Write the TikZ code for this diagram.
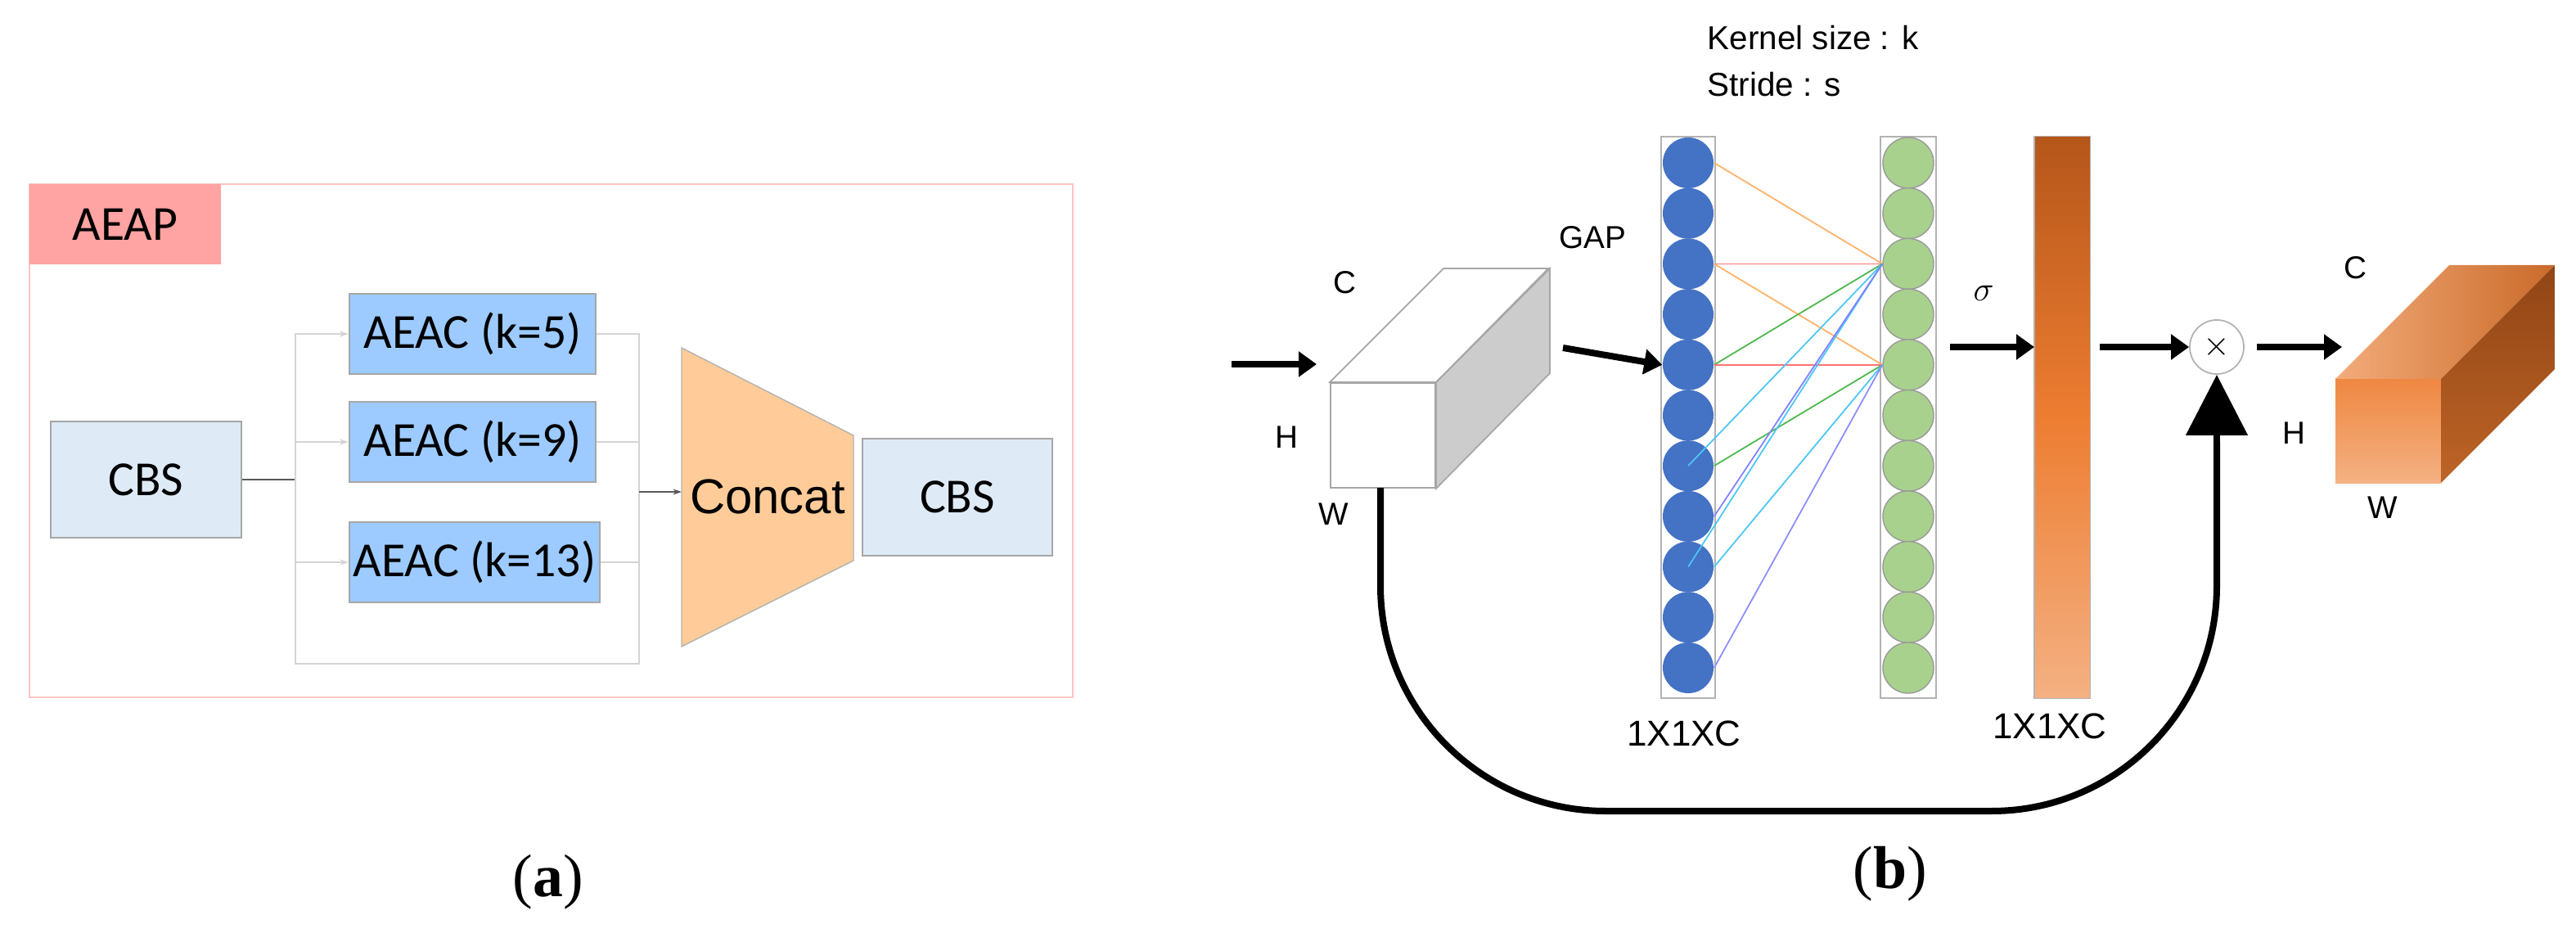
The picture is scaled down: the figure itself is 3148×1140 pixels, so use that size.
\documentclass[tikz,border=0pt]{standalone}
\usepackage{fontspec}
\setmainfont{Liberation Sans}
\newfontfamily\calib{Carlito}
\newfontfamily\serifb{Liberation Serif}
\usetikzlibrary{arrows.meta}
\definecolor{cbsfill}{HTML}{DEEBF7}
\definecolor{aeacfill}{HTML}{9DCBFF}
\definecolor{aeapfill}{HTML}{FFA3A3}
\definecolor{framec}{HTML}{FFC4C4}
\definecolor{concatfill}{HTML}{FFCC99}
\definecolor{conn}{HTML}{D4D4D4}
\definecolor{bluec}{HTML}{4472C4}
\definecolor{greenc}{HTML}{A9D18E}
\definecolor{oA}{HTML}{B5561A}
\definecolor{oB}{HTML}{ED7D31}
\definecolor{oC}{HTML}{F4B183}
\tikzset{
  x=0.01cm,y=-0.01cm,
  box/.style={draw=gray!70,line width=0.6pt,inner sep=0pt,font=\calib\fontsize{17}{20}\selectfont},
  lab/.style={inner sep=0pt,font=\fontsize{11}{13}\selectfont},
  conn/.style={draw=conn,line width=0.8pt},
  bigarr/.style={line width=0.08cm,-{Triangle[length=0.22cm,width=0.3cm]}},
  bc/.style={circle,fill=bluec,minimum size=0.62cm,inner sep=0pt},
  gc/.style={circle,fill=greenc,draw=gray!80,line width=0.4pt,minimum size=0.62cm,inner sep=0pt},
  wl/.style={line width=0.5pt}
}
\begin{document}
\begin{tikzpicture}
\useasboundingbox[fill=white] (0,0) rectangle (3148,1140);
% ---------- (a) ----------
\draw[framec,line width=0.8pt] (36,225) rectangle (1311,852);
\node[fill=aeapfill,inner sep=0pt,minimum width=2.34cm,minimum height=0.98cm,font=\calib\fontsize{17}{20}\selectfont] (aeap) at (153,274) {AEAP};
\node[box,fill=cbsfill,minimum width=2.33cm,minimum height=1.42cm] (cbsA) at (178.5,586) {CBS};
\node[box,fill=aeacfill,minimum width=3.01cm,minimum height=0.98cm] (k5) at (577.5,408) {AEAC (k=5)};
\node[box,fill=aeacfill,minimum width=3.01cm,minimum height=0.98cm] (k9) at (577.5,540) {AEAC (k=9)};
\node[box,fill=aeacfill,minimum width=3.06cm,minimum height=0.98cm] (k13) at (580,687) {AEAC (k=13)};
\node[box,fill=cbsfill,minimum width=2.32cm,minimum height=1.43cm] (cbsB) at (1170,607.5) {CBS};
\draw[fill=concatfill,draw=gray!60,line width=0.4pt] (833,425)--(1043,532)--(1043,685)--(833,790)--cycle;
\node[inner sep=0pt,font=\fontsize{17}{20}\selectfont] (concat) at (938,607) {Concat};
\coordinate (bl) at (361,586);
\coordinate (br) at (781,601);
\coordinate (cin) at (833,601);
\draw[gray!70!black,line width=0.8pt] (cbsA.east) -- (bl);
\draw[conn] (361,407) -- (361,811) -- (781,811) -- (781,407);
\draw[conn,-{Stealth[length=3pt,width=2pt]}] (361,408) -- (k5.west);
\draw[conn,-{Stealth[length=3pt,width=2pt]}] (361,540) -- (k9.west);
\draw[conn,-{Stealth[length=3pt,width=2pt]}] (361,687) -- (k13.west);
\draw[conn] (k5.east) -- (781,408);
\draw[conn] (k9.east) -- (781,540);
\draw[conn] (k13.east) -- (781,687);
\draw[gray!70!black,line width=0.8pt,-{Stealth[length=3pt,width=2pt]}] (br) -- (cin);
\node[font=\serifb\fontsize{21}{24}\selectfont] (la) at (670,1078) {(\textbf{a})};
% ---------- (b) ----------
\node[lab,anchor=west,align=left,font=\fontsize{11.5}{14}\selectfont] (kern) at (2086,46) {Kernel size : k};
\node[lab,anchor=west,font=\fontsize{11.5}{14}\selectfont] (strd) at (2086,103) {Stride : s};
% cube 1
\node[draw=gray!70,fill=white,line width=0.5pt,minimum width=1.28cm,minimum height=1.28cm,inner sep=0pt] (cubeA) at (1690,532) {};
\draw[gray!70,line width=0.5pt,fill=white] (cubeA.north west)--++(139,-139)--++(128,0)--(cubeA.north east)--cycle;
\draw[gray!70,line width=0.5pt,fill=gray!40] (cubeA.north east)--++(139,-139)--++(0,128)--(cubeA.south east)--cycle;
\node[lab] (cA) at (1643,345) {C};
\node[lab] (hA) at (1572,534) {H};
\node[lab] (wA) at (1630,628) {W};
\node[lab] (gap) at (1946,290) {GAP};
\coordinate (in0) at (1505,445);
\draw[bigarr] (in0) -- (1609,445);
% columns
\draw[gray!60,line width=0.5pt] (2030,167) rectangle (2096,853);
\draw[gray!60,line width=0.5pt] (2298,167) rectangle (2366,853);
\foreach \i in {0,...,10}{
  \node[bc] (b\i) at (2063,{199+61.7*\i}) {};
  \node[gc] (g\i) at (2332,{199+61.7*\i}) {};
}
\draw[bigarr] (1910,425) -- (b4.west);
\draw[wl,orange!60] (b0.east) -- (g2.west);
\draw[wl,red!55] (b2.east) -- (g2.west);
\draw[wl,orange!60] (b2.east) -- (g4.west);
\draw[wl,green!60!black!70] (b4.east) -- (g2.west);
\draw[wl,red!55] (b4.east) -- (g4.west);
\draw[wl,cyan!70] (b6.center) -- (g2.west);
\draw[wl,green!60!black!70] (b6.east) -- (g4.west);
\draw[wl,cyan!70] (b8.center) -- (g2.west);
\draw[wl,blue!50] (b7.east) -- (g2.west);
\draw[wl,cyan!70] (b8.east) -- (g4.west);
\draw[wl,blue!45] (b10.east) -- (g4.west);
\node[lab,font=\fontsize{12.5}{15}\selectfont] (dimA) at (2058,896) {1X1XC};
% sigma bar
\node[lab,font=\fontsize{12}{14}\selectfont] (sig) at (2424,358) {$\sigma$};
\shade[top color=oA,bottom color=oC,middle color=oB] (2486,167) rectangle (2554,853);
\node[draw=gray!60,line width=0.3pt,minimum width=0.68cm,minimum height=6.86cm,inner sep=0pt] (bar) at (2520,510) {};
\node[lab,font=\fontsize{12.5}{15}\selectfont] (dimB) at (2505,887) {1X1XC};
\draw[bigarr] (2383,424) -- (2486,424);
\node[circle,draw=gray!60,line width=0.5pt,minimum size=0.66cm,inner sep=0pt,font=\fontsize{12}{14}\selectfont] (mul) at (2709,424) {$\times$};
\draw[bigarr] (2566,424) -- (mul.west);
% cube 2
\coordinate (cf1) at (2854,463);
\shade[top color=oB!80!oC, bottom color=oC] (2854,463) rectangle (2983,590);
\shade[left color=oC!90!oB, right color=oB!85!black] (2854,463)--(2993,324)--(3122,324)--(2983,463)--cycle;
\shade[top color=oA!80!black, bottom color=oB!80!black] (2983,463)--(3122,324)--(3122,451)--(2983,590)--cycle;
\node[inner sep=0pt,minimum width=1.29cm,minimum height=1.27cm] (cubeB) at (2918.5,526.5) {};
\draw[bigarr] (2758,424) -- (2862,424);
\node[lab] (cB) at (2878,327) {C};
\node[lab] (hB) at (2803,529) {H};
\node[lab] (wB) at (2912,620) {W};
% skip connection
\coordinate (sk0) at (1687,596);
\draw[line width=0.08cm,rounded corners=2.75cm] (sk0) -- (1687,991) -- (2709,991) -- (2709,540);
\draw[line width=0.08cm,-{Triangle[length=0.74cm,width=0.74cm]}] (2709,545) -- (mul.south);
\node[font=\serifb\fontsize{21}{24}\selectfont] (lb) at (2310,1068) {(\textbf{b})};
\end{tikzpicture}
\end{document}
